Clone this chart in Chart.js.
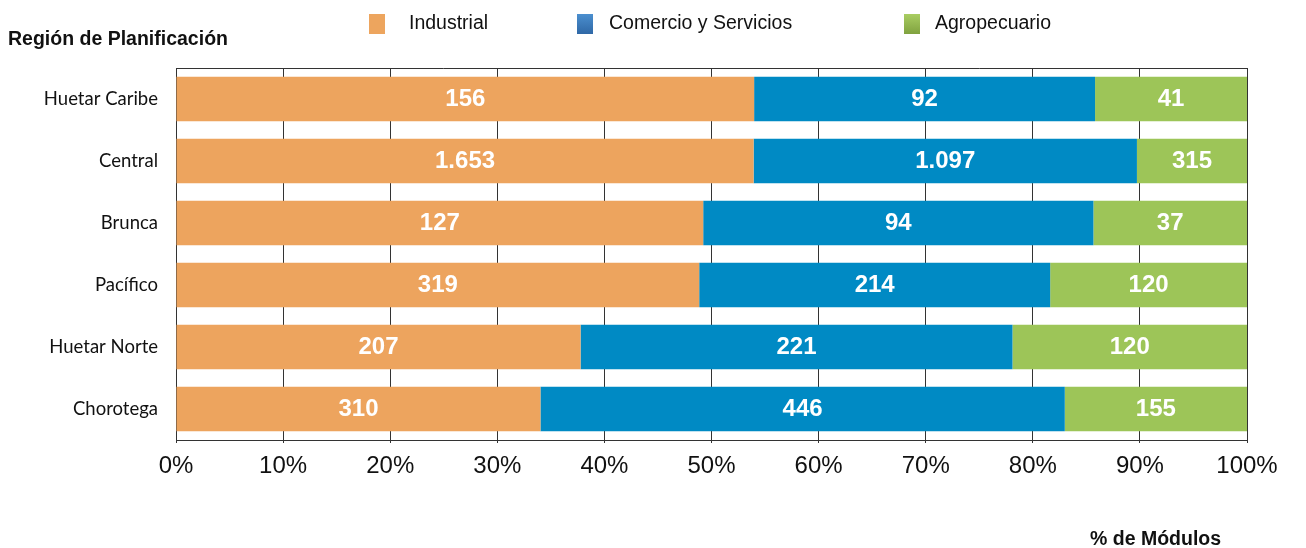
<!DOCTYPE html>
<html>
<head>
<meta charset="utf-8">
<script src="https://cdn.jsdelivr.net/npm/chart.js@4.4.1/dist/chart.umd.min.js"></script>
<style>
  html, body { margin: 0; padding: 0; background: #fff; }
  #wrap { width: 1306px; height: 548px; position: relative; }
</style>
</head>
<body>
<div id="wrap"><canvas id="chart"></canvas></div>
<script>
const regions      = ['Huetar Caribe', 'Central', 'Brunca', 'Pacífico', 'Huetar Norte', 'Chorotega'];
const industrial   = [156, 1653, 127, 319, 207, 310];
const comercio     = [92, 1097, 94, 214, 221, 446];
const agropecuario = [41, 315, 37, 120, 120, 155];
const seriesNames  = ['Industrial', 'Comercio y Servicios', 'Agropecuario'];
const xTicks       = [0, 10, 20, 30, 40, 50, 60, 70, 80, 90, 100];

const FONT = "'Liberation Sans', Arial, Helvetica, sans-serif";
const raw = [industrial, comercio, agropecuario];
const totals = regions.map((_, i) => industrial[i] + comercio[i] + agropecuario[i]);
const pct = (arr) => arr.map((v, i) => v / totals[i] * 100);

function fmtNum(v) {
  return String(v).replace(/\B(?=(\d{3})+(?!\d))/g, '.');
}

// legend + titles + top border + value labels
const decor = {
  id: 'decor',
  afterDraw(chart) {
    const c = chart.ctx;
    const area = chart.chartArea;
    c.save();

    // top border line
    c.strokeStyle = '#333';
    c.lineWidth = 1;
    c.beginPath();
    c.moveTo(area.left, area.top + 0.5);
    c.lineTo(area.right, area.top + 0.5);
    c.stroke();

    // titles
    c.fillStyle = '#111';
    c.font = 'bold 19.5px ' + FONT;
    c.textBaseline = 'middle';
    c.textAlign = 'left';
    c.fillText('Región de Planificación', 8, 40);
    c.fillText('% de Módulos', 1090, 540);

    // legend
    const legendX = [369, 577, 904];
    const textX   = [409, 609, 935];
    const grads = [['#eda55e', '#eda55e'], ['#4b8fcf', '#2f68a6'], ['#a9cd62', '#80a23f']];
    chart.data.datasets.forEach((ds, i) => {
      const g = c.createLinearGradient(0, 14, 0, 34);
      g.addColorStop(0, grads[i][0]);
      g.addColorStop(1, grads[i][1]);
      c.fillStyle = g;
      c.fillRect(legendX[i], 14, 16, 20);
      c.fillStyle = '#111';
      c.font = '19.5px ' + FONT;
      c.fillText(ds.label, textX[i], 24);
    });

    // value labels
    c.fillStyle = '#fff';
    c.font = 'bold 24px ' + FONT;
    c.textAlign = 'center';
    chart.data.datasets.forEach((ds, di) => {
      chart.getDatasetMeta(di).data.forEach((bar, i) => {
        const x = (bar.x + bar.base) / 2;
        c.fillText(fmtNum(raw[di][i]), x, bar.y);
      });
    });
    c.restore();
  }
};

new Chart(document.getElementById('chart'), {
  type: 'bar',
  data: {
    labels: regions,
    datasets: [
      { label: seriesNames[0], data: pct(industrial),   backgroundColor: '#eda45e' },
      { label: seriesNames[1], data: pct(comercio),     backgroundColor: '#008ac4' },
      { label: seriesNames[2], data: pct(agropecuario), backgroundColor: '#9dc558' },
    ],
  },
  options: {
    indexAxis: 'y',
    responsive: true,
    maintainAspectRatio: false,
    animation: false,
    layout: { padding: { top: 68, right: 59, left: 0, bottom: 0 } },
    plugins: { legend: { display: false }, tooltip: { enabled: false } },
    datasets: { bar: { categoryPercentage: 1, barPercentage: 0.72 } },
    scales: {
      x: {
        stacked: true,
        min: 0,
        max: 100,
        afterBuildTicks: (s) => { s.ticks = xTicks.map(v => ({ value: v })); },
        ticks: { color: '#111', font: { family: FONT, size: 24 }, padding: 9, callback: (v) => v + '%', maxRotation: 0 },
        grid: { color: '#333', lineWidth: 1, tickLength: 3 },
        border: { color: '#333', width: 1 },
        afterFit: (s) => { s.height = 108; },
      },
      y: {
        stacked: true,
        ticks: { color: '#111', font: { family: "Lato, 'Open Sans', sans-serif", size: 18.5 }, padding: 10 },
        grid: { display: false },
        border: { color: '#333', width: 1 },
        afterFit: (s) => { s.width = 176; },
      },
    },
  },
  plugins: [decor],
});
</script>
</body>
</html>
